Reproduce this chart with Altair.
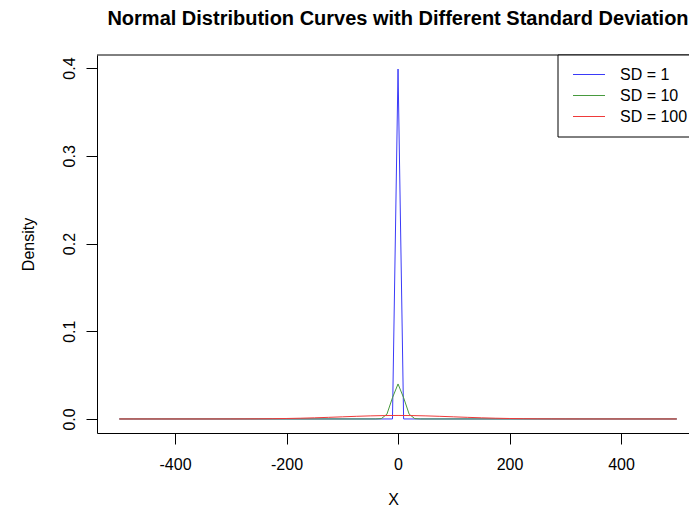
import altair as alt
import pandas as pd

series = ["SD = 1", "SD = 10", "SD = 100"]
colors = ["#3a3af8", "#479a3e", "#ef3a3a"]

x_sd1 = [-500, -10, 0, 10, 500]
y_sd1 = [0.0, 0.0, 0.3989, 0.0, 0.0]

x_sd10 = [-500, -40, -30, -20, -10, 0, 10, 20, 30, 40, 500]
y_sd10 = [0.0, 0.0, 0.0004, 0.0054, 0.0242, 0.0399, 0.0242, 0.0054, 0.0004, 0.0, 0.0]

x_sd100 = [-500, -475, -450, -425, -400, -375, -350, -325, -300, -275, -250,
           -225, -200, -175, -150, -125, -100, -75, -50, -25, 0,
           25, 50, 75, 100, 125, 150, 175, 200, 225, 250,
           275, 300, 325, 350, 375, 400, 425, 450, 475, 500]
y_sd100 = [0.0, 0.0, 0.0, 0.0, 0.0, 0.0, 0.00001, 0.00002, 0.00004, 0.00009, 0.00018,
           0.00032, 0.00054, 0.00086, 0.00130, 0.00183, 0.00242, 0.00301, 0.00352, 0.00387, 0.00399,
           0.00387, 0.00352, 0.00301, 0.00242, 0.00183, 0.00130, 0.00086, 0.00054, 0.00032, 0.00018,
           0.00009, 0.00004, 0.00002, 0.00001, 0.0, 0.0, 0.0, 0.0, 0.0, 0.0]

x_ticks = [-400, -200, 0, 200, 400]
y_ticks = [0.0, 0.1, 0.2, 0.3, 0.4]

title_text = "Normal Distribution Curves with Different Standard Deviation"

FONT = "Liberation Sans"
W, H = 592, 378

frames = []
for xv, yv, name in [(x_sd1, y_sd1, series[0]), (x_sd10, y_sd10, series[1]), (x_sd100, y_sd100, series[2])]:
    frames.append(pd.DataFrame({"x": xv, "y": yv, "series": name}))
df = pd.concat(frames, ignore_index=True)
legend_df = pd.DataFrame({"series": series})

xs = alt.Scale(domain=[-540, 521.9], nice=False, zero=False)
ys = alt.Scale(domain=[-0.016, 0.4149], nice=False, zero=False)
cs = alt.Scale(domain=series, range=colors)

xaxis = alt.Axis(values=x_ticks, labelExpr="datum.value + ''", title="X",
                 tickSize=11, tickColor="black", domainColor="black",
                 labelColor="black", labelFontSize=16, labelFont=FONT,
                 labelPadding=12, labelFlush=False, grid=False,
                 titleFontSize=16, titleFont=FONT, titleFontWeight="normal",
                 titleColor="black", titlePadding=19)
yaxis = alt.Axis(values=y_ticks, labelExpr="format(datum.value, '.1f')", title="Density",
                 tickSize=11, tickColor="black", domainColor="black",
                 labelColor="black", labelFontSize=16, labelFont=FONT,
                 labelAngle=270, labelAlign="center", labelBaseline="alphabetic",
                 labelPadding=12, labelFlush=False, grid=False,
                 titleFontSize=16, titleFont=FONT, titleFontWeight="normal",
                 titleColor="black", titlePadding=25)

lines = alt.Chart(df).mark_line(strokeWidth=1).encode(
    x=alt.X("x:Q", scale=xs, axis=xaxis),
    y=alt.Y("y:Q", scale=ys, axis=yaxis),
    color=alt.Color("series:N", scale=cs, legend=None),
    order=alt.Order("x:Q"),
)

frame_top = alt.Chart(pd.DataFrame({"a": [0]})).mark_rule(color="black", strokeWidth=1).encode(
    x=alt.value(0), x2=alt.value(W), y=alt.value(0)
)

title_mark = alt.Chart(pd.DataFrame({"t": [title_text]})).mark_text(
    font=FONT, fontSize=20, fontWeight="bold", color="black",
    align="center", baseline="alphabetic"
).encode(x=alt.value(301), y=alt.value(-30.5), text="t:N")

# legend (box, line samples, labels)
leg_box = alt.Chart(pd.DataFrame({"a": [0]})).mark_rect(
    fill="white", stroke="black", strokeWidth=1
).encode(x=alt.value(461), x2=alt.value(610), y=alt.value(0), y2=alt.value(82))

ly = alt.Y("series:N", scale=alt.Scale(type="point", domain=series, range=[19.5, 61.5], padding=0), axis=None)

leg_lines = alt.Chart(legend_df).mark_rule(strokeWidth=1).encode(
    x=alt.value(476), x2=alt.value(508), y=ly,
    color=alt.Color("series:N", scale=cs, legend=None),
)
leg_text = alt.Chart(legend_df).mark_text(
    font=FONT, fontSize=16, color="black", align="left", baseline="middle"
).encode(x=alt.value(523), y=ly, text="series:N")

legend_layer = alt.layer(leg_box, leg_lines, leg_text)

chart = alt.layer(
    lines,
    frame_top,
    title_mark,
    legend_layer,
).resolve_scale(y="independent").properties(
    width=W, height=H,
    autosize=alt.AutoSizeParams(type="none"),
    padding={"left": 89, "top": 47, "right": 0, "bottom": 74},
    background="white",
).configure_view(stroke=None)

chart.save("out.html", embed_options={"renderer": "svg", "actions": False})
